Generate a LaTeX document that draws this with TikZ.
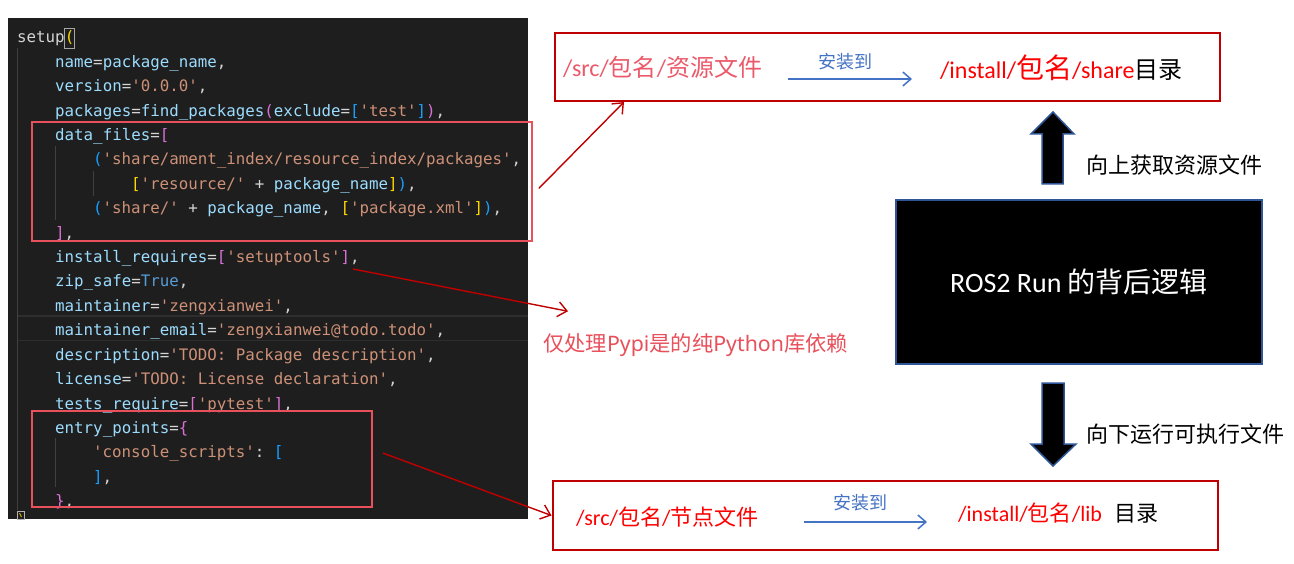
\documentclass[tikz,border=0pt]{standalone}
\usepackage{fontspec}
\setmonofont{DejaVu Sans Mono}
\newfontfamily\cjk{Noto Sans CJK SC}
\newfontfamily\lat{Carlito}
\newfontfamily\latw{Noto Sans}
\usetikzlibrary{arrows.meta,calc}
\definecolor{cid}{HTML}{9CDCFE}
\definecolor{cstr}{HTML}{CE9178}
\definecolor{cpun}{HTML}{D4D4D4}
\definecolor{ckw}{HTML}{569CD6}
\definecolor{bgold}{HTML}{FFD700}
\definecolor{bpur}{HTML}{DA70D6}
\definecolor{bblu}{HTML}{179FFF}
\definecolor{panel}{HTML}{1E1E1E}
\definecolor{hlred}{HTML}{E8505B}
\definecolor{srcpink}{HTML}{EB5A6A}
\definecolor{darkred}{HTML}{C00000}
\definecolor{boxblue}{HTML}{2F5597}
\definecolor{arrblue}{HTML}{4472C4}
\definecolor{guide}{HTML}{404040}
\definecolor{curline}{HTML}{2E2E2E}
\newcommand\CI[1]{\textcolor{cid}{#1}}
\newcommand\CS[1]{\textcolor{cstr}{#1}}
\newcommand\CP[1]{\textcolor{cpun}{#1}}
\newcommand\CK[1]{\textcolor{ckw}{#1}}
\newcommand\BG[1]{\textcolor{bgold}{#1}}
\newcommand\BP[1]{\textcolor{bpur}{#1}}
\newcommand\BB[1]{\textcolor{bblu}{#1}}
\newcommand\ZH[1]{{\cjk #1}}
\newcommand\LA[1]{{\lat #1}}
\newcommand\LW[1]{{\latw #1}}
\newcommand\codeline[3]{\node[codetxt] (c#1) at ({17+#2*9.5},{43+#1*24.4}) {#3};}
\begin{document}
\begin{tikzpicture}[x=1pt,y=-1pt,
  codetxt/.style={anchor=base west,inner sep=0pt,font=\ttfamily\fontsize{15.8}{18}\selectfont},
  hlbox/.style={draw=hlred,line width=1.5pt,inner sep=0pt},
  outbox/.style={draw=darkred,line width=2pt,inner sep=0pt},
  runbox/.style={draw=boxblue,fill=black,line width=2pt,inner sep=0pt,text=white},
  txt/.style={inner sep=0pt,anchor=west},
  redarr/.style={draw=darkred,line width=1.4pt,-{Straight Barb[length=9pt,width=15pt]}},
  bluearr/.style={draw=arrblue,line width=1.5pt,-{Straight Barb[length=8pt,width=14pt]}},
  blockarr/.style={fill=black,draw=boxblue,line width=1.5pt},
  guideline/.style={draw=guide,line width=0.8pt}]
\useasboundingbox (0,0) rectangle (1294,564);
\fill[white] (0,0) rectangle (1294,564);
% code panel
\fill[panel] (8,18) rectangle (528,519);
\draw[curline,line width=1pt] (17,316) -- (528,316) (17,340) -- (528,340);
\draw[guideline] (17,48) -- (17,510);
\draw[guideline] (55,146) -- (55,220);
\draw[guideline] (93,171) -- (93,196);
\draw[guideline] (55,438) -- (55,487);
\draw[draw=gray!70,line width=0.7pt] (64.5,28) rectangle (74.5,48);
\draw[draw=gray!60,line width=0.7pt] (17,511) rectangle (24.5,519);
\draw[draw=bgold!80!black,line width=1pt] (19.5,513) -- (21.5,517);
\codeline{0}{0}{\CP{setup}\BG{(}}
\codeline{1}{4}{\CI{name}\CP{=}\CI{package\_name}\CP{,}}
\codeline{2}{4}{\CI{version}\CP{=}\CS{'0.0.0'}\CP{,}}
\codeline{3}{4}{\CI{packages}\CP{=}\CI{find\_packages}\BP{(}\CI{exclude}\CP{=}\BB{[}\CS{'test'}\BB{]}\BP{)}\CP{,}}
\codeline{4}{4}{\CI{data\_files}\CP{=}\BP{[}}
\codeline{5}{8}{\BB{(}\CS{'share/ament\_index/resource\_index/packages'}\CP{,}}
\codeline{6}{12}{\BG{[}\CS{'resource/'}\CP{~+~}\CI{package\_name}\BG{]}\BB{)}\CP{,}}
\codeline{7}{8}{\BB{(}\CS{'share/'}\CP{~+~}\CI{package\_name}\CP{,~}\BG{[}\CS{'package.xml'}\BG{]}\BB{)}\CP{,}}
\codeline{8}{4}{\BP{]}\CP{,}}
\codeline{9}{4}{\CI{install\_requires}\CP{=}\BP{[}\CS{'setuptools'}\BP{]}\CP{,}}
\codeline{10}{4}{\CI{zip\_safe}\CP{=}\CK{True}\CP{,}}
\codeline{11}{4}{\CI{maintainer}\CP{=}\CS{'zengxianwei'}\CP{,}}
\codeline{12}{4}{\CI{maintainer\_email}\CP{=}\CS{'zengxianwei@todo.todo'}\CP{,}}
\codeline{13}{4}{\CI{description}\CP{=}\CS{'TODO:~Package~description'}\CP{,}}
\codeline{14}{4}{\CI{license}\CP{=}\CS{'TODO:~License~declaration'}\CP{,}}
\codeline{15}{4}{\CI{tests\_require}\CP{=}\BP{[}\CS{'pytest'}\BP{]}\CP{,}}
\codeline{16}{4}{\CI{entry\_points}\CP{=}\BP{\{}}
\codeline{17}{8}{\CS{'console\_scripts'}\CP{:~}\BB{[}}
\codeline{18}{8}{\BB{]}\CP{,}}
\codeline{19}{4}{\BP{\}}\CP{,}}
% highlight boxes
\node[hlbox,minimum width=500pt,minimum height=119pt] (dbox) at (282,181.5) {};
\node[hlbox,minimum width=340pt,minimum height=96pt] (ebox) at (202,459) {};
% top output box
\node[outbox,minimum width=665pt,minimum height=68pt] (topbox) at (887.5,67) {};
\node[txt,text=srcpink,font=\fontsize{24}{28}\selectfont] (src1) at (563,67) {\LA{/src/}\ZH{包名}\LA{/}\ZH{资源文件}};
\node[txt,text=red,font=\fontsize{24}{28}\selectfont] (inst1) at (940,68) {\LA{/install/}{\fontsize{28}{30}\selectfont\ZH{包名}}\LA{/share}\textcolor{black}{\ZH{目录}}};
\node[inner sep=0pt,text=arrblue,font=\fontsize{18}{20}\selectfont\cjk] (ins1) at (845,62) {安装到};
\coordinate (b1s) at (788,79);
\coordinate (b1e) at (912,79);
\draw[bluearr] (b1s) -- (b1e);
% bottom output box
\node[outbox,minimum width=665pt,minimum height=69pt] (botbox) at (885,515.5) {};
\node[txt,text=red,font=\fontsize{22}{26}\selectfont] (src2) at (576,517) {\LA{/src/}\ZH{包名}\LA{/}\ZH{节点文件}};
\node[txt,text=red,font=\fontsize{22}{26}\selectfont] (inst2) at (958,513) {\LA{/install/}\ZH{包名}\LA{/lib}\hspace{12pt}\textcolor{black}{\ZH{目录}}};
\node[inner sep=0pt,text=arrblue,font=\fontsize{18}{20}\selectfont\cjk] (ins2) at (860,503) {安装到};
\coordinate (b2s) at (804,522);
\coordinate (b2e) at (927,522);
\draw[bluearr] (b2s) -- (b2e);
% label for install_requires
\node[txt,text=hlred,font=\fontsize{21.3}{24}\selectfont] (pyl) at (543,345) {\ZH{仅处理}\LW{Pypi}\ZH{是的纯}\LW{Python}\ZH{库依赖}};
% run box
\node[runbox,minimum width=366pt,minimum height=164pt,font=\fontsize{28}{32}\selectfont] (run) at (1079,282) {\LA{ROS2 Run }\ZH{的背后逻辑}};
% block arrows
\draw[blockarr] (1042,184) -- (1042,134) -- (1031,134) -- (1053,112) -- (1074,134) -- (1063,134) -- (1063,184) -- cycle;
\draw[blockarr] (1042,383) -- (1064,383) -- (1064,444) -- (1076,444) -- (1053,466) -- (1031,444) -- (1042,444) -- cycle;
\node[txt,font=\fontsize{22}{26}\selectfont\cjk] (upl) at (1086,165) {向上获取资源文件};
\node[txt,font=\fontsize{22}{26}\selectfont\cjk] (downl) at (1086,434) {向下运行可执行文件};
% red connectors
\draw[redarr] ($(dbox.east)+(6,7)$) -- ($(topbox.south west)+(70,0)$);
\coordinate (a2s) at (353,269);
\draw[redarr] (a2s) -- ($(pyl.north west)+(25,-22)$);
\draw[redarr] ($(ebox.east)+(10,-6)$) -- (botbox.west);
\end{tikzpicture}
\end{document}
